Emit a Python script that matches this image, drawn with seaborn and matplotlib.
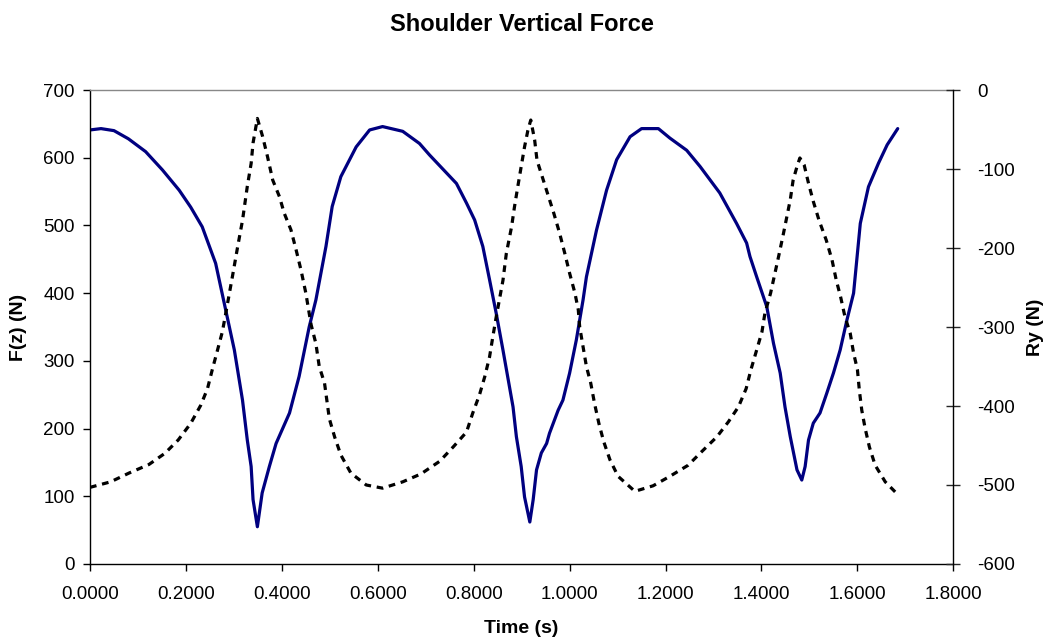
import numpy as np
import matplotlib
matplotlib.use("Agg")
import matplotlib.pyplot as plt
import seaborn as sns

# Shoulder vertical force, F(z) on the left axis
time_fz = [0.000, 0.023, 0.050, 0.080, 0.116, 0.151, 0.186, 0.210, 0.234, 0.262,
           0.283, 0.301, 0.318, 0.328, 0.336, 0.340, 0.349, 0.359, 0.374, 0.388,
           0.416, 0.436, 0.457, 0.471, 0.492, 0.505, 0.523, 0.555, 0.583, 0.610,
           0.652, 0.687, 0.708, 0.764, 0.785, 0.802, 0.819, 0.833, 0.847, 0.861,
           0.882, 0.889, 0.899, 0.906, 0.917, 0.924, 0.931, 0.941, 0.952, 0.958,
           0.976, 0.986, 1.000, 1.014, 1.028, 1.035, 1.056, 1.077, 1.098, 1.126,
           1.150, 1.185, 1.209, 1.244, 1.272, 1.313, 1.348, 1.369, 1.376, 1.390,
           1.411, 1.425, 1.439, 1.449, 1.460, 1.474, 1.484, 1.491, 1.498, 1.508,
           1.522, 1.536, 1.550, 1.564, 1.578, 1.592, 1.606, 1.623, 1.644, 1.662,
           1.684]
fz = [641, 643, 640, 628, 609, 582, 552, 527, 498, 444,
      375, 316, 242, 183, 144, 95, 55, 105, 144, 178,
      223, 277, 350, 390, 469, 528, 572, 616, 641, 646,
      639, 621, 604, 562, 533, 508, 469, 420, 370, 316,
      232, 188, 144, 99, 62, 95, 139, 164, 178, 193,
      227, 242, 282, 331, 390, 424, 493, 552, 597, 631,
      643, 643, 629, 611, 587, 548, 503, 474, 454, 424,
      380, 326, 282, 232, 188, 139, 124, 144, 183, 208,
      223, 252, 282, 316, 360, 400, 503, 557, 592, 619,
      643]

# Ry on the right axis
time_ry = [0.000, 0.043, 0.081, 0.123, 0.156, 0.184, 0.210, 0.231, 0.245, 0.255,
           0.266, 0.276, 0.283, 0.297, 0.308, 0.318, 0.328, 0.336, 0.340, 0.349,
           0.360, 0.370, 0.381, 0.395, 0.405, 0.419, 0.430, 0.440, 0.450, 0.461,
           0.471, 0.478, 0.489, 0.499, 0.510, 0.523, 0.544, 0.576, 0.610, 0.652,
           0.690, 0.729, 0.757, 0.785, 0.798, 0.812, 0.823, 0.833, 0.840, 0.847,
           0.861, 0.868, 0.879, 0.885, 0.892, 0.899, 0.906, 0.913, 0.919, 0.927,
           0.932, 0.943, 0.955, 0.967, 0.979, 0.990, 1.000, 1.011, 1.018, 1.021,
           1.028, 1.035, 1.044, 1.052, 1.061, 1.071, 1.084, 1.101, 1.136, 1.174,
           1.209, 1.247, 1.275, 1.307, 1.331, 1.352, 1.368, 1.378, 1.390, 1.401,
           1.407, 1.419, 1.428, 1.437, 1.446, 1.453, 1.460, 1.466, 1.474, 1.480,
           1.489, 1.498, 1.508, 1.520, 1.535, 1.547, 1.556, 1.565, 1.574, 1.585,
           1.592, 1.600, 1.604, 1.609, 1.616, 1.625, 1.637, 1.658, 1.684]
ry = [-503, -496, -485, -474, -460, -443, -422, -399, -378, -354,
      -329, -306, -283, -236, -198, -165, -122, -93, -67, -36,
      -59, -84, -114, -135, -156, -177, -203, -228, -257, -297,
      -321, -350, -371, -416, -439, -462, -485, -500, -504, -496,
      -486, -470, -452, -433, -409, -386, -363, -338, -312, -287,
      -241, -207, -173, -148, -122, -97, -72, -51, -38, -63,
      -89, -110, -133, -156, -181, -207, -232, -257, -278, -300,
      -325, -350, -371, -397, -422, -445, -468, -489, -508, -501,
      -489, -475, -458, -439, -420, -401, -378, -354, -329, -306,
      -283, -257, -232, -207, -181, -160, -139, -114, -97, -86,
      -95, -118, -141, -165, -190, -215, -241, -262, -287, -308,
      -333, -354, -380, -405, -428, -452, -475, -496, -512]

x_ticks = [0.0, 0.2, 0.4, 0.6, 0.8, 1.0, 1.2, 1.4, 1.6, 1.8]
left_ticks = [0, 100, 200, 300, 400, 500, 600, 700]
right_ticks = [-600, -500, -400, -300, -200, -100, 0]

sns.set_style("white")
plt.rcParams['font.family'] = ['Liberation Sans', 'DejaVu Sans']
plt.rcParams['axes.unicode_minus'] = False
plt.rcParams['text.color'] = 'black'
plt.rcParams['axes.labelcolor'] = 'black'

fig = plt.figure(figsize=(10.45, 6.42), dpi=100)
ax = fig.add_axes([0.0861, 0.1215, 0.8262, 0.7383])
ax2 = ax.twinx()

sns.lineplot(x=time_fz, y=fz, ax=ax, color='#000080', linewidth=2.3, sort=False)
sns.lineplot(x=time_ry, y=ry, ax=ax2, color='black', linewidth=2.3, sort=False,
             linestyle=(0, (2.1, 1.8)))

ax.set_xlim(0, 1.8)
ax.set_ylim(0, 700)
ax2.set_ylim(-600, 0)
ax.set_xticks(x_ticks)
ax.set_xticklabels([f"{v:.4f}" for v in x_ticks])
ax.set_yticks(left_ticks)
ax2.set_yticks(right_ticks)

for a in (ax, ax2):
    for s in a.spines.values():
        s.set_visible(False)
ax.spines['left'].set_visible(True)
ax.spines['bottom'].set_visible(True)
ax.spines['top'].set_visible(True)
ax.spines['left'].set_color('black')
ax.spines['bottom'].set_color('black')
ax.spines['top'].set_color('#888888')
ax2.spines['right'].set_visible(True)
ax2.spines['right'].set_color('black')
for s in ('left', 'bottom', 'top'):
    ax.spines[s].set_linewidth(1.0)
ax2.spines['right'].set_linewidth(1.0)

ax.tick_params(axis='both', direction='out', length=5, width=1, color='black',
               labelsize=13.5, labelcolor='black', pad=6)
ax.tick_params(axis='x', bottom=True, pad=11)
ax.tick_params(axis='y', left=True)
ax2.tick_params(axis='y', right=True, direction='inout', length=10, width=1,
                labelsize=13.5, labelcolor='black', pad=12)

ax.set_xlabel('Time (s)', fontsize=14, fontweight='bold', labelpad=12)
ax.set_ylabel('F(z) (N)', fontsize=14, fontweight='bold', labelpad=12)
ax2.set_ylabel('Ry (N)', fontsize=14, fontweight='bold', labelpad=9)
fig.suptitle('Shoulder Vertical Force', fontsize=17, fontweight='bold',
             x=0.499, y=0.98, color='black')

fig.savefig('out.png', dpi=100)
